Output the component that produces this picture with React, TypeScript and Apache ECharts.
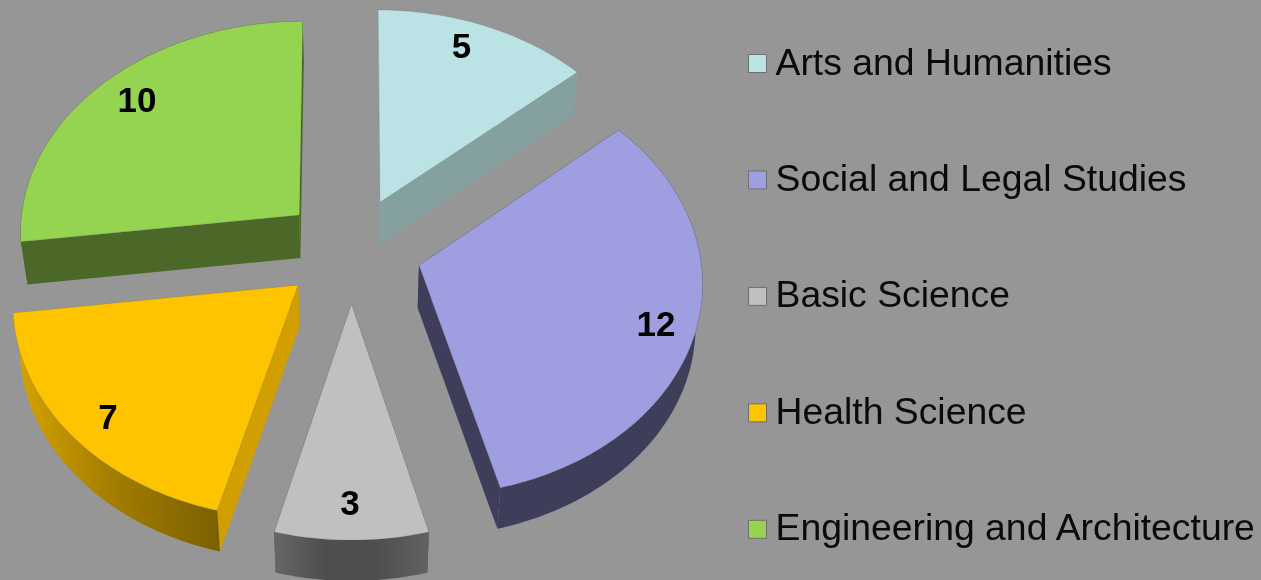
import React, { useEffect, useRef } from "react";
import * as echarts from "echarts";

const categories = [
  "Arts and Humanities",
  "Social and Legal Studies",
  "Basic Science",
  "Health Science",
  "Engineering and Architecture",
];
const values = [5, 12, 3, 7, 10];
const topColors = ["#BBE2E5", "#9E9EE0", "#C0C0C0", "#FFC400", "#94D450"];
const sideColors = ["#84A09F", "#3E3E5B", "#555555", "#D29F00", "#4C6828"];
const outerStops = [
  ["#84A09F", "#84A09F"],
  ["#3E3E5B", "#3E3E5B"],
  ["#666666", "#4E4E4E", "#4E4E4E", "#626262"],
  ["#D8A400", "#A07C00", "#7C6000"],
  ["#4C6828", "#4C6828"],
];
const labelAnchors = [
  [461.5, 45],
  [656, 323],
  [350, 502],
  [108, 416],
  [137, 99],
];

const BG = "#969696";
const CX = 351.5;
const CY = 249.7;
const RX = 281;
const RY = 212;
const K = 0.07;
const EXPLODE = 0.25;
const total = values.reduce((a, b) => a + b, 0);

function project(u: number, v: number): number[] {
  const w = 1 - K * v;
  return [CX + (RX * u) / w, CY + (RY * v) / w];
}
function lower(p: number[]): number[] {
  return [CX + (p[0] - CX) * 0.98, p[1] + 44.5 - 0.007 * p[1]];
}

function makeRenderItem(index: number) {
  return (_params: any, api: any) => {
    const value = api.value(0);
    const before = values.slice(0, index).reduce((a, b) => a + b, 0);
    const a0 = (before / total) * Math.PI * 2;
    const a1 = a0 + (value / total) * Math.PI * 2;
    const mid = (a0 + a1) / 2;
    const ex = Math.sin(mid) * EXPLODE;
    const ey = -Math.cos(mid) * EXPLODE;
    const steps = Math.max(8, Math.ceil(((a1 - a0) * 180) / Math.PI));
    const arc: number[][] = [];
    for (let i = 0; i <= steps; i++) {
      const t = a0 + ((a1 - a0) * i) / steps;
      arc.push(project(ex + Math.sin(t), ey - Math.cos(t)));
    }
    const apex = project(ex, ey);
    const first = arc[0];
    const last = arc[arc.length - 1];
    const side = sideColors[index];
    const stops = outerStops[index];
    const edge = { stroke: "rgba(90,90,90,0.3)", lineWidth: 0.7 };
    return {
      type: "group",
      children: [
        {
          type: "polygon",
          shape: { points: [apex, first, lower(first), lower(apex)] },
          style: { fill: side },
        },
        {
          type: "polygon",
          shape: { points: [apex, last, lower(last), lower(apex)] },
          style: { fill: side },
        },
        {
          type: "polygon",
          shape: { points: [...arc, ...arc.slice().reverse().map(lower)] },
          style: {
            fill: {
              type: "linear",
              x: 0,
              y: 0,
              x2: 1,
              y2: 0,
              colorStops: stops.map((color, i) => ({
                offset: i / (stops.length - 1),
                color,
              })),
            },
          },
        },
        {
          type: "polygon",
          shape: { points: [apex, ...arc] },
          style: { fill: topColors[index], ...edge },
        },
        {
          type: "text",
          x: labelAnchors[index][0],
          y: labelAnchors[index][1],
          style: {
            text: String(value),
            fill: "#000000",
            font: 'bold 35px "Liberation Sans", Arial, sans-serif',
            align: "center",
            verticalAlign: "middle",
          },
        },
      ],
    };
  };
}

export default function App() {
  const ref = useRef<HTMLDivElement>(null);
  useEffect(() => {
    const chart = echarts.init(ref.current!, undefined, { renderer: "svg" });
    chart.setOption({
      animation: false,
      backgroundColor: BG,
      legend: {
        orient: "vertical",
        left: 748,
        top: 43,
        padding: 0,
        data: categories,
        icon: "rect",
        itemWidth: 18,
        itemHeight: 18,
        itemGap: 75.45,
        selectedMode: false,
        itemStyle: { borderColor: "#6E6E6E", borderWidth: 1 },
        formatter: "{t|{name}}",
        textStyle: {
          rich: {
            t: {
              color: "#0A0A0A",
              fontFamily: '"Liberation Sans", Arial, sans-serif',
              fontSize: 37.35,
              lineHeight: 40,
              padding: [0, 0, 4, 4],
            },
          },
        },
      },
      series: categories.map((name, i) => ({
        type: "custom",
        name,
        coordinateSystem: "none",
        silent: true,
        itemStyle: { color: topColors[i] },
        data: [[values[i]]],
        renderItem: makeRenderItem(i),
      })),
    });
    return () => chart.dispose();
  }, []);
  return (
    <div
      ref={ref}
      style={{
        position: "fixed",
        left: 0,
        top: 0,
        width: 1261,
        height: 580,
        filter: "blur(0.4px)",
      }}
    />
  );
}
